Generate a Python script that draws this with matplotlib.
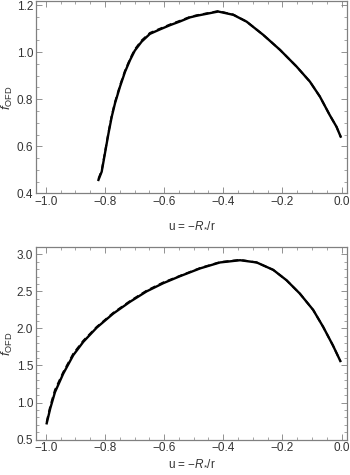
import matplotlib
matplotlib.use("Agg")
import matplotlib.pyplot as plt
from matplotlib.ticker import MultipleLocator

plt.rcParams['font.family'] = ['Liberation Sans', 'DejaVu Sans']
plt.rcParams['mathtext.fontset'] = 'custom'
plt.rcParams['mathtext.rm'] = 'Liberation Sans'
plt.rcParams['mathtext.it'] = 'Liberation Sans:italic'

# top panel (solid and dashed curves nearly coincide)
u_top = [-0.822, -0.811, -0.800, -0.788, -0.777, -0.766, -0.749, -0.732, -0.715,
         -0.699, -0.676, -0.648, -0.614, -0.580, -0.546, -0.513, -0.490, -0.417,
         -0.366, -0.321, -0.265, -0.208, -0.152, -0.107, -0.073, -0.040, -0.017, -0.003]
f_top = [0.457, 0.492, 0.570, 0.655, 0.726, 0.783, 0.854, 0.917, 0.967,
         1.007, 1.045, 1.078, 1.097, 1.115, 1.131, 1.148, 1.155, 1.173,
         1.159, 1.130, 1.074, 1.010, 0.939, 0.875, 0.811, 0.733, 0.683, 0.641]
f_top_dash = [0.462, 0.497, 0.575, 0.660, 0.731, 0.788, 0.859, 0.922, 0.972,
              1.012, 1.050, 1.082, 1.100, 1.118, 1.134, 1.150, 1.157, 1.175,
              1.160, 1.130, 1.074, 1.010, 0.939, 0.875, 0.811, 0.733, 0.683, 0.641]

# bottom panel
u_bot = [-0.997, -0.985, -0.969, -0.941, -0.907, -0.873, -0.828, -0.772, -0.715,
         -0.659, -0.603, -0.546, -0.478, -0.411, -0.343, -0.287, -0.231, -0.186,
         -0.141, -0.096, -0.062, -0.029, -0.004]
f_bot = [0.72, 0.92, 1.14, 1.39, 1.64, 1.82, 2.01, 2.20, 2.36,
         2.50, 2.61, 2.705, 2.81, 2.89, 2.92, 2.89, 2.79, 2.65,
         2.47, 2.25, 2.02, 1.77, 1.56]
f_bot_dash = [0.74, 0.95, 1.17, 1.41, 1.66, 1.835, 2.02, 2.21, 2.37,
              2.51, 2.62, 2.71, 2.815, 2.895, 2.925, 2.89, 2.79, 2.65,
              2.47, 2.25, 2.02, 1.77, 1.56]

frame_col = '#808080'
text_col = '#333333'
fig = plt.figure(figsize=(3.5, 4.75), dpi=100)
ax1 = fig.add_axes([0.103, 0.593, 0.888, 0.405])
ax2 = fig.add_axes([0.103, 0.0745, 0.888, 0.4045])


def style(ax, ymin, ymax, ymaj, ymin_step, xpad):
    ax.set_xlim(-1.033, 0.018)
    ax.set_ylim(ymin, ymax)
    ax.xaxis.set_major_locator(MultipleLocator(0.2))
    ax.xaxis.set_minor_locator(MultipleLocator(0.05))
    ax.yaxis.set_major_locator(MultipleLocator(ymaj))
    ax.yaxis.set_minor_locator(MultipleLocator(ymin_step))
    ax.tick_params(which='both', direction='in', top=True, right=True,
                   color=frame_col, labelcolor=text_col, labelsize=8.5, pad=2)
    ax.tick_params(which='major', length=4, width=0.6)
    ax.tick_params(which='minor', length=2, width=0.5)
    for s in ax.spines.values():
        s.set_color(frame_col)
        s.set_linewidth(0.9)
    ax.xaxis.set_major_formatter(plt.FuncFormatter(lambda v, p: f"{v:.1f}".replace('-', '\u2212')))
    ax.yaxis.set_major_formatter(plt.FuncFormatter(lambda v, p: f"{v:.1f}"))
    ax.set_xlabel("u = \u2212$R_{*}$/r", fontsize=8.5, color=text_col, labelpad=xpad)
    ax.set_ylabel(r"$f_{\mathrm{OFD}}$", fontsize=9.5, color=text_col)
    ax.yaxis.set_label_coords(-0.068, 0.5)


ax1.plot(u_top, f_top, color='black', lw=1.7, solid_joinstyle='round')
ax1.plot(u_top, f_top_dash, color='black', lw=1.4, ls=(0, (3, 2)))
style(ax1, 0.4, 1.218, 0.2, 0.05, 8)

ax2.plot(u_bot, f_bot, color='black', lw=1.7, solid_joinstyle='round')
ax2.plot(u_bot, f_bot_dash, color='black', lw=1.4, ls=(0, (3, 2)))
style(ax2, 0.5, 3.092, 0.5, 0.1, 2)

fig.savefig("out.png", dpi=100)
